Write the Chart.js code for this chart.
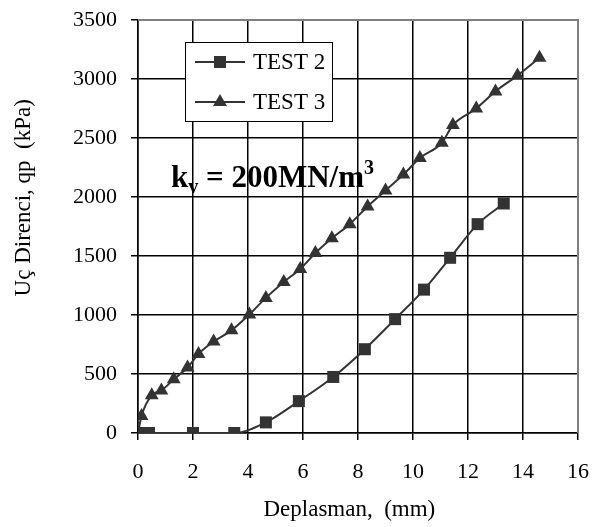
<!DOCTYPE html>
<html>
<head>
<meta charset="utf-8">
<script src="https://cdn.jsdelivr.net/npm/chart.js@4/dist/chart.umd.min.js"></script>
<style>
    body { margin: 0; background: #fff; }
    #wrap { width: 592px; height: 527px; }
</style>
</head>
<body>
<div id="wrap"><canvas id="myChart"></canvas></div>
<script>
// data
const test2X = [0, 0.4, 2, 3.5, 4.65, 5.85, 7.1, 8.25, 9.35, 10.4, 11.35, 12.35, 13.3];
const test2Y = [0, 0, 0, 0, 90, 270, 475, 710, 965, 1215, 1485, 1770, 1945];
const test3X = [0, 0.13, 0.5, 0.85, 1.3, 1.8, 2.2, 2.75, 3.4, 4.05, 4.65, 5.3, 5.9, 6.45, 7.05, 7.7, 8.35, 9.0, 9.65, 10.25, 11.05, 11.45, 12.3, 13.0, 13.8, 14.6];
const test3Y = [0, 145, 320, 360, 455, 555, 670, 775, 870, 1005, 1145, 1280, 1390, 1525, 1650, 1770, 1920, 2055, 2190, 2330, 2460, 2610, 2750, 2895, 3030, 3180];

const seriesNames = ['TEST 2', 'TEST 3'];
const xTitle = 'Deplasman,  (mm)';
const yTitle = 'Uç Direnci, qp  (kPa)';
const kvText = ['k', 'v', ' = 200MN/m', '3'];

const serif = '"Liberation Serif", "Times New Roman", serif';
const ink = '#333';

const toPoints = (xs, ys) => xs.map((x, i) => ({ x, y: ys[i] }));

const drawMarker = (ctx, style, x, y) => {
    ctx.beginPath();
    if (style === 'rect') {
        ctx.rect(x - 6, y - 6, 12, 12);
    } else {
        ctx.moveTo(x, y - 8);
        ctx.lineTo(x + 7, y + 4);
        ctx.lineTo(x - 7, y + 4);
        ctx.closePath();
    }
    ctx.fill();
};

// labels must not push the plot area in
const noPad = (scale) => {
    scale.paddingTop = 0;
    scale.paddingBottom = 0;
    scale.paddingLeft = 0;
    scale.paddingRight = 0;
};

// gray frame on top/right, legend box and the k_v note
const extras = {
    id: 'extras',
    afterDraw(chart) {
        const { ctx, chartArea, scales } = chart;
        const { left, right, top, bottom } = chartArea;
        ctx.save();

        ctx.strokeStyle = 'rgb(128, 128, 128)';
        ctx.lineWidth = 2;
        ctx.beginPath();
        ctx.moveTo(left, top);
        ctx.lineTo(right, top);
        ctx.lineTo(right, bottom);
        ctx.stroke();

        // k_v = 200MN/m3
        let x = scales.x.getPixelForValue(1.2);
        const y = scales.y.getPixelForValue(2085);
        ctx.fillStyle = '#000';
        ctx.textBaseline = 'alphabetic';
        ctx.textAlign = 'left';
        const big = `bold 31px ${serif}`;
        const small = `bold 20px ${serif}`;
        ctx.font = big;
        ctx.fillText(kvText[0], x, y);
        x += ctx.measureText(kvText[0]).width;
        ctx.font = small;
        ctx.fillText(kvText[1], x, y + 6);
        x += ctx.measureText(kvText[1]).width;
        ctx.font = big;
        ctx.fillText(kvText[2], x, y);
        x += ctx.measureText(kvText[2]).width;
        ctx.font = small;
        ctx.fillText(kvText[3], x, y - 13);

        // legend
        const bx = left + 47;
        const by = top + 22;
        ctx.fillStyle = '#fff';
        ctx.fillRect(bx, by, 147, 79);
        ctx.strokeStyle = '#000';
        ctx.lineWidth = 1;
        ctx.strokeRect(bx + 0.5, by + 0.5, 147, 79);
        chart.data.datasets.forEach((ds, i) => {
            const ly = by + 20 + i * 40;
            ctx.strokeStyle = ink;
            ctx.lineWidth = 2;
            ctx.beginPath();
            ctx.moveTo(bx + 10, ly);
            ctx.lineTo(bx + 60, ly);
            ctx.stroke();
            ctx.fillStyle = ink;
            drawMarker(ctx, ds.pointStyle, bx + 35, ly);
            ctx.fillStyle = '#000';
            ctx.font = `23px ${serif}`;
            ctx.textBaseline = 'middle';
            ctx.fillText(ds.label, bx + 68, ly + 1);
        });
        ctx.restore();
    },
};

const ctx1 = document.getElementById('myChart');
new Chart(ctx1, {
    type: 'scatter',
    data: {
        datasets: [
            {
                label: seriesNames[0],
                data: toPoints(test2X, test2Y),
                showLine: true,
                cubicInterpolationMode: 'monotone',
                borderColor: ink,
                borderWidth: 2,
                backgroundColor: ink,
                pointStyle: 'rect',
                pointRadius: 8.5,
                pointBorderWidth: 0,
            },
            {
                label: seriesNames[1],
                data: toPoints(test3X, test3Y),
                showLine: true,
                cubicInterpolationMode: 'monotone',
                borderColor: ink,
                borderWidth: 2,
                backgroundColor: ink,
                pointStyle: 'triangle',
                pointRadius: 8,
                pointBorderWidth: 0,
            },
        ],
    },
    options: {
        responsive: true,
        maintainAspectRatio: false,
        animation: false,
        layout: { padding: { top: 20, right: 14, left: 0, bottom: 0 } },
        plugins: {
            legend: { display: false },
            tooltip: { enabled: false },
        },
        scales: {
            x: {
                type: 'linear',
                min: 0,
                max: 16,
                afterFit: (scale) => { scale.height = 94; noPad(scale); },
                ticks: {
                    stepSize: 2,
                    padding: 19,
                    color: '#000',
                    font: { family: serif, size: 22 },
                    callback: (v) => String(v),
                },
                grid: {
                    color: '#000',
                    lineWidth: 1.5,
                    tickLength: 7,
                },
                border: { color: '#000', width: 1.5 },
                title: {
                    display: true,
                    text: xTitle + '   ',
                    color: '#000',
                    font: { family: serif, size: 23 },
                    padding: { top: 0, bottom: 3 },
                },
            },
            y: {
                min: 0,
                max: 3500,
                afterFit: (scale) => { scale.width = 138; noPad(scale); },
                ticks: {
                    stepSize: 500,
                    padding: 14,
                    color: '#000',
                    font: { family: serif, size: 22 },
                    callback: (v) => String(v),
                },
                grid: {
                    color: '#000',
                    lineWidth: 1.5,
                    tickLength: 7,
                },
                border: { color: '#000', width: 1.5 },
                title: {
                    display: true,
                    text: '          ' + yTitle,
                    color: '#000',
                    font: { family: serif, size: 23 },
                    padding: { top: 10, bottom: 0 },
                },
            },
        },
    },
    plugins: [extras],
});
</script>
</body>
</html>
